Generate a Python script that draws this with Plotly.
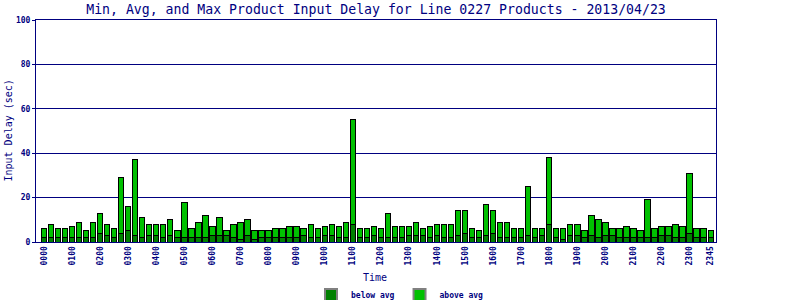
import plotly.graph_objects as go

times = [f"{h:02d}{m:02d}" for h in range(24) for m in (0, 15, 30, 45)]

max_delay = [6, 8, 6, 6, 7, 9, 5, 9, 13, 8, 6, 29, 16, 37, 11, 8,
             8, 8, 10, 5, 18, 6, 9, 12, 7, 11, 5, 8, 9, 10, 5, 5,
             5, 6, 6, 7, 7, 6, 8, 6, 7, 8, 7, 9, 55, 6, 6, 7,
             6, 13, 7, 7, 7, 9, 6, 7, 8, 8, 8, 14, 14, 6, 5, 17,
             14, 9, 9, 6, 6, 25, 6, 6, 38, 6, 6, 8, 8, 5, 12, 10,
             9, 6, 6, 7, 6, 5, 19, 6, 7, 7, 8, 7, 31, 6, 6, 5]

below_avg = [2, 2, 2, 2, 2, 2, 2, 2, 4, 3, 2, 4, 5, 3, 2, 3,
             3, 2, 3, 2, 2, 2, 2, 2, 3, 3, 3, 2, 1, 3, 1, 2,
             2, 2, 2, 2, 2, 3, 2, 2, 3, 3, 2, 2, 8, 2, 2, 3,
             2, 2, 2, 2, 3, 3, 3, 2, 3, 2, 2, 3, 4, 2, 2, 3,
             4, 2, 2, 2, 2, 3, 2, 3, 8, 2, 1, 3, 3, 2, 3, 2,
             3, 3, 2, 2, 2, 2, 2, 2, 3, 3, 2, 2, 4, 2, 2, 2]

above_avg = [mx - mn for mx, mn in zip(max_delay, below_avg)]

tick_labels = [t for t in times if t.endswith("00")] + ["2345"]

NAVY = "#000080"
MONO = "DejaVu Sans Mono"
DARK = "#008000"
LIGHT = "#00C000"

xs = list(range(len(times)))
tickvals = [times.index(t) for t in tick_labels]

fig = go.Figure()
fig.add_trace(go.Bar(x=xs, y=below_avg, name="below avg", width=0.76, showlegend=False,
                     marker=dict(color=DARK, line=dict(color="black", width=1)),
                     customdata=times, hovertemplate="%{customdata}: %{y}<extra></extra>"))
fig.add_trace(go.Bar(x=xs, y=above_avg, name="above avg", width=0.76, showlegend=False,
                     marker=dict(color=LIGHT, line=dict(color="black", width=1)),
                     customdata=times, hovertemplate="%{customdata}: %{y}<extra></extra>"))
# legend entries with grey-bordered swatches
for nm, col in (("below avg", DARK), ("above avg", LIGHT)):
    fig.add_trace(go.Bar(x=[None], y=[None], name=nm, showlegend=True,
                         marker=dict(color=col, line=dict(color="#808080", width=2))))

fig.update_layout(
    width=800, height=300,
    margin=dict(l=36, r=84, t=20, b=58, autoexpand=False),
    barmode="stack",
    plot_bgcolor="white", paper_bgcolor="white",
    title=dict(text="Min, Avg, and Max Product Input Delay for Line 0227 Products - 2013/04/23",
               font=dict(family=MONO, size=13.2, color=NAVY),
               x=376 / 800, xanchor="center", y=1 - 9 / 300, yanchor="middle",
               xref="container", yref="container"),
    showlegend=True,
    legend=dict(orientation="h", xref="container", yref="container", traceorder="normal",
                x=0.5, xanchor="center", y=5 / 300, yanchor="middle",
                font=dict(family=MONO, size=8, color=NAVY, weight="bold"),
                itemwidth=30, bgcolor="rgba(0,0,0,0)"),
    xaxis=dict(range=[-1.14, 95.76], tickvals=tickvals, ticktext=tick_labels,
               tickangle=-90, showgrid=False, zeroline=False, automargin=False,
               showline=True, linecolor=NAVY, linewidth=1, mirror=True,
               ticks="", tickfont=dict(family=MONO, size=8, color=NAVY, weight="bold")),
    yaxis=dict(range=[0, 100], tickvals=[0, 20, 40, 60, 80, 100],
               showgrid=True, gridcolor=NAVY, gridwidth=1, zeroline=False, automargin=False,
               showline=True, linecolor=NAVY, linewidth=1, mirror=True,
               ticks="outside", ticklen=3, tickcolor=NAVY,
               tickfont=dict(family=MONO, size=8, color=NAVY, weight="bold")),
    annotations=[
        dict(text="Time", xref="paper", yref="paper", x=(375 - 36) / 680,
             y=-(277.5 - 242) / 222, xanchor="center", yanchor="middle", showarrow=False,
             font=dict(family=MONO, size=10, color=NAVY)),
        dict(text="Input Delay (sec)", xref="paper", yref="paper", x=-(36 - 7.5) / 680,
             y=0.5, xanchor="center", yanchor="middle", textangle=-90, showarrow=False,
             font=dict(family=MONO, size=10, color=NAVY)),
    ],
)

fig.write_html("out.html")
